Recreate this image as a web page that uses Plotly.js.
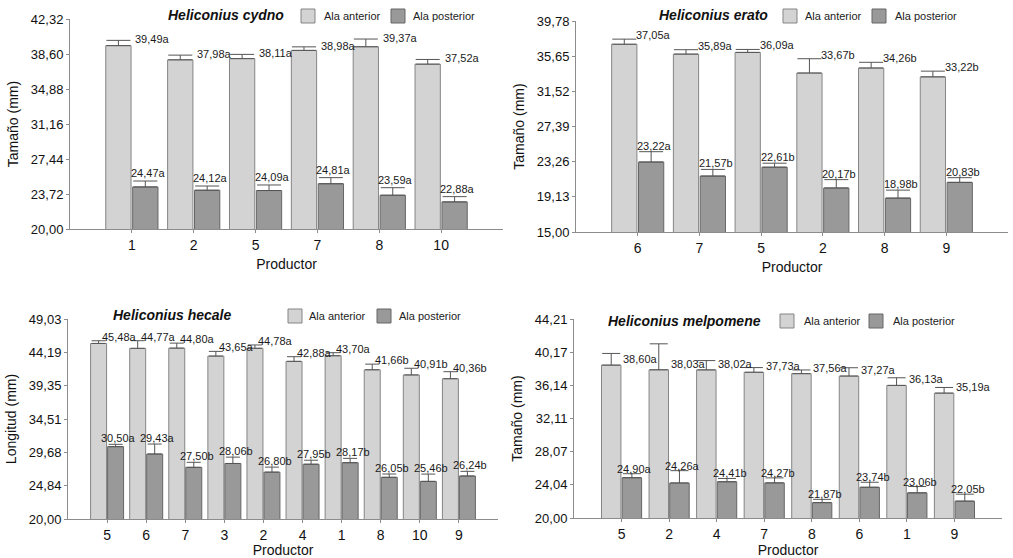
<!DOCTYPE html>
<html><head><meta charset="utf-8">
<script src="https://cdn.plot.ly/plotly-3.0.1.min.js"></script>
<style>html,body{margin:0;padding:0;background:#fff}#chart{width:1013px;height:558px}</style>
</head><body><div id="chart"></div>
<script>
// ---- Heliconius cydno ----
const cydnoCats = ['1','2','5','7','8','10'];
const cydnoAnt = [39.49, 37.98, 38.11, 38.98, 39.37, 37.52];
const cydnoAntErr = [0.56, 0.50, 0.45, 0.38, 0.82, 0.50];
const cydnoAntLetter = ['a','a','a','a','a','a'];
const cydnoPost = [24.47, 24.12, 24.09, 24.81, 23.59, 22.88];
const cydnoPostErr = [0.63, 0.45, 0.59, 0.65, 0.80, 0.56];
const cydnoPostLetter = ['a','a','a','a','a','a'];
const cydnoTicks = [20.00, 23.72, 27.44, 31.16, 34.88, 38.60, 42.32];

// ---- Heliconius erato ----
const eratoCats = ['6','7','5','2','8','9'];
const eratoAnt = [37.05, 35.89, 36.09, 33.67, 34.26, 33.22];
const eratoAntErr = [0.60, 0.52, 0.35, 1.68, 0.67, 0.67];
const eratoAntLetter = ['a','a','a','b','b','b'];
const eratoPost = [23.22, 21.57, 22.61, 20.17, 18.98, 20.83];
const eratoPostErr = [1.21, 0.78, 0.47, 0.98, 0.94, 0.55];
const eratoPostLetter = ['a','b','b','b','b','b'];
const eratoTicks = [15.00, 19.13, 23.26, 27.39, 31.52, 35.65, 39.78];

// ---- Heliconius hecale ----
const hecaleCats = ['5','6','7','3','2','4','1','8','10','9'];
const hecaleAnt = [45.48, 44.77, 44.80, 43.65, 44.78, 42.88, 43.70, 41.66, 40.91, 40.36];
const hecaleAntErr = [0.39, 1.11, 0.73, 0.68, 0.48, 0.68, 0.44, 0.82, 0.97, 1.02];
const hecaleAntLetter = ['a','a','a','a','a','a','a','b','b','b'];
const hecalePost = [30.50, 29.43, 27.50, 28.06, 26.80, 27.95, 28.17, 26.05, 25.46, 26.24];
const hecalePostErr = [0.34, 1.45, 0.73, 0.92, 0.73, 0.58, 0.63, 0.48, 1.06, 0.68];
const hecalePostLetter = ['a','a','b','b','b','b','b','b','b','b'];
const hecaleTicks = [20.00, 24.84, 29.68, 34.51, 39.35, 44.19, 49.03];

// ---- Heliconius melpomene ----
const melpCats = ['5','2','4','7','8','6','1','9'];
const melpAnt = [38.60, 38.03, 38.02, 37.73, 37.56, 37.27, 36.13, 35.19];
const melpAntErr = [1.42, 3.16, 1.13, 0.57, 0.45, 1.01, 0.93, 0.69];
const melpAntLetter = ['a','a','a','a','a','a','a','a'];
const melpPost = [24.90, 24.26, 24.41, 24.27, 21.87, 23.74, 23.06, 22.05];
const melpPostErr = [0.49, 1.50, 0.40, 0.61, 0.40, 0.61, 0.77, 0.85];
const melpPostLetter = ['a','a','b','b','b','b','b','b'];
const melpTicks = [20.00, 24.04, 28.07, 32.11, 36.14, 40.17, 44.21];

const seriesNames = ['Ala anterior', 'Ala posterior'];

const W = 1013, H = 558;
const FONT = 'Liberation Sans, Arial, Helvetica, sans-serif';
const BARGAP = 0.13;
const fills = ['#d3d3d3', '#999999'];
const outlines = ['#858585', '#666666'];
const errColor = '#555555';

// panel settings (pixel geometry measured on the reference)
const panels = [
  {title:'Heliconius cydno', cats:cydnoCats, ant:cydnoAnt, antErr:cydnoAntErr, antL:cydnoAntLetter,
   post:cydnoPost, postErr:cydnoPostErr, postL:cydnoPostLetter, ticks:cydnoTicks, ytitle:'Tamaño (mm)',
   px:[70,503], py:[19,229], titleXY:[226,15], legBox:[308,398], legText:[322,411], legY:16, capW:12,
   antDx:15, antDy:1, antAtValue:false, postDx:3, postDy:8},
  {title:'Heliconius erato', cats:eratoCats, ant:eratoAnt, antErr:eratoAntErr, antL:eratoAntLetter,
   post:eratoPost, postErr:eratoPostErr, postL:eratoPostLetter, ticks:eratoTicks, ytitle:'Tamaño (mm)',
   px:[576,1008], py:[21,232], titleXY:[713,15], legBox:[790,879], legText:[803,893], legY:16, capW:12,
   antDx:10, antDy:4, antAtValue:false, postDx:3, postDy:6},
  {title:'Heliconius hecale', cats:hecaleCats, ant:hecaleAnt, antErr:hecaleAntErr, antL:hecaleAntLetter,
   post:hecalePost, postErr:hecalePostErr, postL:hecalePostLetter, ticks:hecaleTicks, ytitle:'Longitud (mm)',
   px:[68,498], py:[319,519], titleXY:[172,315], legBox:[295,384], legText:[307,397], legY:316, capW:7,
   antDx:1, antDy:4, antAtValue:false, postDx:3, postDy:6},
  {title:'Heliconius melpomene', cats:melpCats, ant:melpAnt, antErr:melpAntErr, antL:melpAntLetter,
   post:melpPost, postErr:melpPostErr, postL:melpPostLetter, ticks:melpTicks, ytitle:'Tamaño (mm)',
   px:[574,1002], py:[319,518], titleXY:[684,321], legBox:[787,876], legText:[802,891], legY:321, capW:9,
   antDx:10, antDy:6, antAtValue:true, postDx:3, postDy:5}
];

const fmt = v => v.toFixed(2).replace('.', ',');
const data = [];
const annotations = [];
const shapes = [];
const layout = {
  width: W, height: H, margin:{l:0,r:0,t:0,b:0},
  paper_bgcolor:'#fff', plot_bgcolor:'#fff',
  barmode:'group', bargap:BARGAP, bargroupgap:0.06,
  separators:',.',
  font:{family:FONT, color:'#1a1a1a', size:12},
  showlegend:false,
  annotations: annotations,
  shapes: shapes
};

panels.forEach((p, k) => {
  const sfx = k === 0 ? '' : String(k + 1);
  const xa = 'x' + sfx, ya = 'y' + sfx;
  const idx = p.cats.map((c, i) => i);
  const zeros = p.cats.map(() => 0);
  [[p.ant, p.antErr], [p.post, p.postErr]].forEach((s, j) => {
    data.push({
      type:'bar', name:seriesNames[j], x:idx, y:s[0], xaxis:xa, yaxis:ya,
      marker:{color:fills[j], line:{color:outlines[j], width:1}},
      error_y:{type:'data', array:s[1], arrayminus:zeros, symmetric:false, color:errColor, thickness:1, width:p.capW},
      hoverinfo:'x+y'
    });
  });
  const n = p.cats.length;
  layout['xaxis' + sfx] = {
    type:'linear', domain:[p.px[0]/W, p.px[1]/W], anchor:ya, range:[-1, n],
    tickvals:idx, ticktext:p.cats, showgrid:false, zeroline:false,
    showline:true, linecolor:'#8c8c8c', linewidth:1,
    ticks:'outside', ticklen:3, tickcolor:'#8c8c8c',
    tickfont:{size:14, color:'#111'},
    title:{text:'Productor', font:{size:14, color:'#111'}, standoff:7},
    fixedrange:true
  };
  layout['yaxis' + sfx] = {
    type:'linear', domain:[1 - p.py[1]/H, 1 - p.py[0]/H], anchor:xa,
    range:[p.ticks[0], p.ticks[p.ticks.length-1]], tickvals:p.ticks, tickformat:'.2f',
    showgrid:false, zeroline:false, showline:true, linecolor:'#8c8c8c', linewidth:1,
    ticks:'outside', ticklen:3, tickcolor:'#8c8c8c',
    tickfont:{size:13, color:'#111'},
    title:{text:p.ytitle, font:{size:14, color:'#111'}, standoff:8},
    fixedrange:true
  };
  // panel title
  annotations.push({
    xref:'paper', yref:'paper', x:p.titleXY[0]/W, y:1 - p.titleXY[1]/H,
    xanchor:'center', yanchor:'middle', showarrow:false,
    text:'<b><i>' + p.title + '</i></b>', font:{size:14, color:'#111'}
  });
  // legend (swatch + label) for each series
  seriesNames.forEach((nm, j) => {
    const cx = p.legBox[j], cy = p.legY;
    shapes.push({
      type:'rect', xref:'paper', yref:'paper',
      x0:(cx - 7)/W, x1:(cx + 7)/W, y0:1 - (cy + 7)/H, y1:1 - (cy - 7)/H,
      fillcolor:fills[j], line:{color:outlines[j], width:1}
    });
    annotations.push({
      xref:'paper', yref:'paper', x:p.legText[j]/W, y:1 - cy/H,
      xanchor:'left', yanchor:'middle', showarrow:false,
      text:nm, font:{size:11, color:'#222'}
    });
  });
  // value labels
  const off = (1 - BARGAP) / 4;
  idx.forEach(i => {
    annotations.push({
      xref:xa, yref:ya, x:i - off, y:p.antAtValue ? p.ant[i] : p.ant[i] + p.antErr[i],
      xanchor:'left', yanchor:'middle', xshift:p.antDx, yshift:p.antDy, showarrow:false,
      text:fmt(p.ant[i]) + p.antL[i], font:{size:11, color:'#1a1a1a'}
    });
    annotations.push({
      xref:xa, yref:ya, x:i + off, y:p.post[i] + p.postErr[i],
      xanchor:'center', yanchor:'middle', xshift:p.postDx, yshift:p.postDy, showarrow:false,
      text:fmt(p.post[i]) + p.postL[i], font:{size:11, color:'#1a1a1a'}
    });
  });
});

Plotly.newPlot('chart', data, layout, {displayModeBar:false, responsive:false});
</script>
</body></html>
